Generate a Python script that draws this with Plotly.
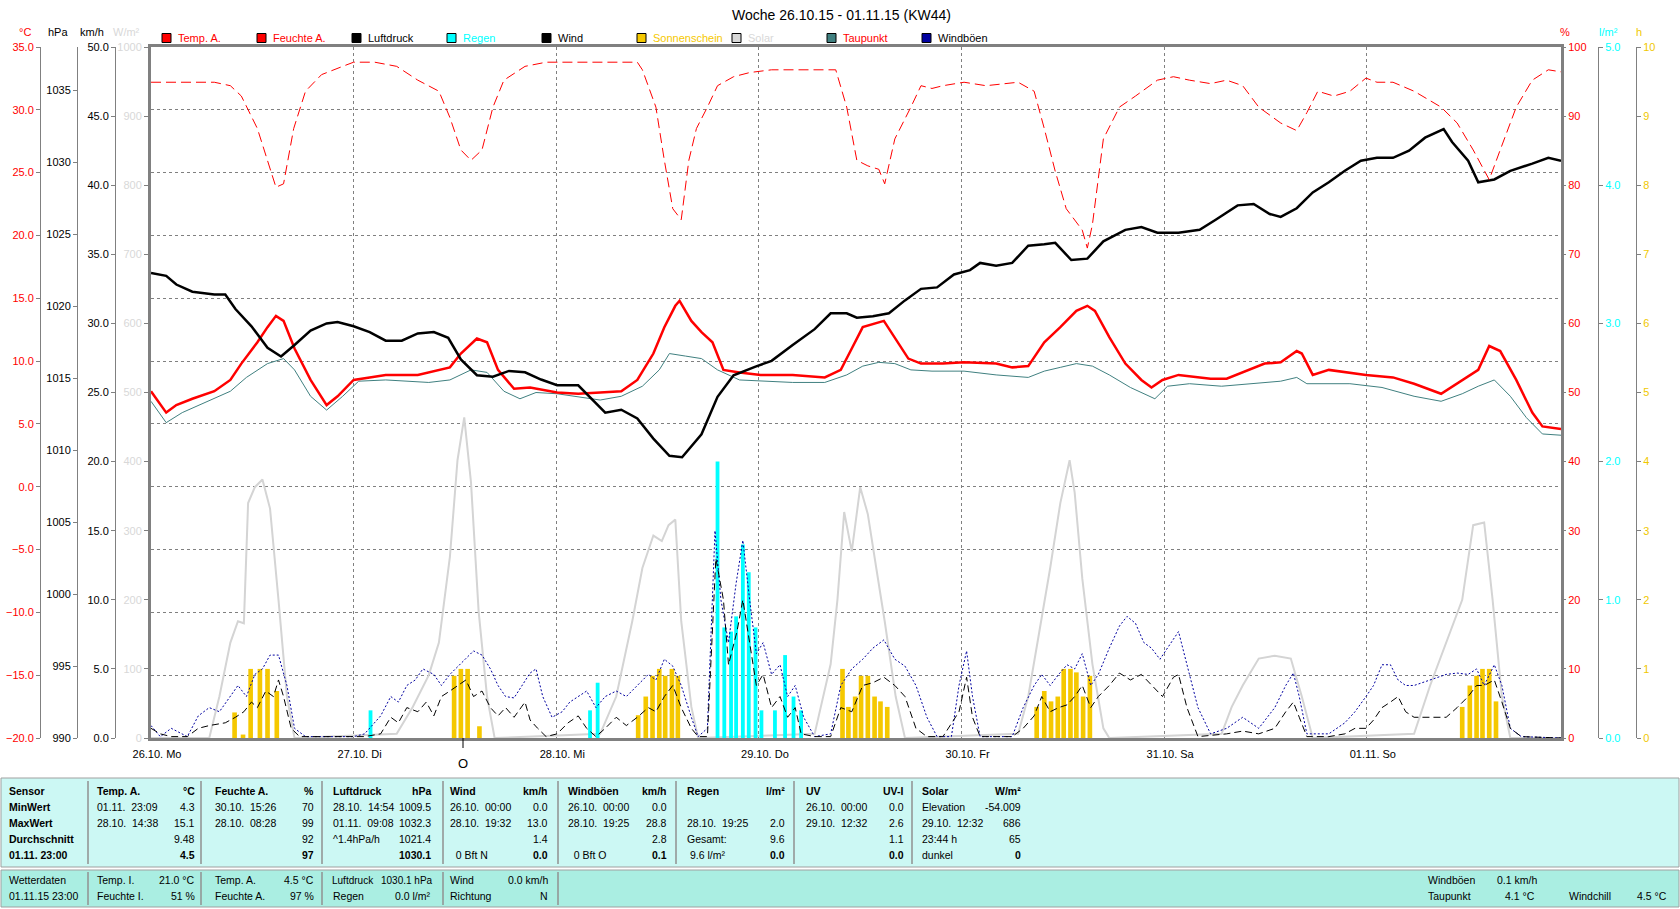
import plotly.graph_objects as go

# ---------------- data (hours since 26.10.15 00:00) ----------------
day_ticks = [0, 24, 48, 72, 96, 120, 144]
day_labels = ["26.10. Mo", "27.10. Di", "28.10. Mi", "29.10. Do", "30.10. Fr", "31.10. Sa", "01.11. So"]

hum_h = [0, 7.5, 9.4, 10.7, 12.6, 13.8, 14.8, 15.7, 16.9, 18.3, 20.2, 22.7, 24.0, 26.5, 29.1, 31.6, 34.1, 35.4,
         36.7, 37.9, 39.2, 40.5, 41.8, 44.3, 46.8, 57.6, 58.2, 59.8, 60.8, 61.8, 62.8, 63.7, 64.6, 65.9, 67.1,
         69.0, 70.9, 73.5, 81.1, 82.4, 83.6, 84.9, 86.2, 86.9, 88.1, 90.0, 91.2, 92.5, 93.8, 96.3, 98.9, 102.7,
         104.6, 105.8, 107.1, 108.4, 110.3, 110.9, 111.5, 112.8, 114.7, 116.6, 119.2, 121.1, 123.0, 125.5, 127.4,
         129.3, 131.2, 133.8, 135.7, 136.9, 138.2, 140.1, 142.0, 143.9, 145.2, 147.1, 149.6, 152.8, 154.7, 156.6,
         158.5, 159.8, 161.7, 163.6, 165.5, 167.0]
hum_v = [94.9, 94.9, 94.4, 92.9, 88.2, 83.6, 79.7, 80.2, 88.2, 93.6, 96.0, 97.2, 97.8, 97.8, 97.2, 95.2, 93.6, 89.8,
         85.1, 83.6, 85.1, 91.3, 95.2, 97.2, 97.8, 97.8, 96.7, 91.3, 83.6, 76.6, 75.0, 83.6, 88.2, 91.3, 94.4,
         95.7, 96.3, 96.7, 96.7, 91.3, 83.6, 82.8, 82.3, 80.2, 86.7, 91.3, 94.4, 94.0, 94.4, 94.9, 94.4, 94.9,
         93.6, 88.2, 82.0, 76.6, 73.5, 70.9, 74.3, 86.7, 91.3, 92.9, 95.2, 95.7, 95.2, 94.7, 95.2,
         94.4, 91.3, 89.0, 87.9, 90.5, 93.6, 92.9, 93.6, 95.5, 94.9, 94.9, 93.6, 91.3, 89.0, 85.1,
         80.8, 85.1, 91.3, 95.2, 96.7, 96.4]

temp_h = [0, 1.8, 3.0, 4.9, 7.5, 9.4, 10.7, 12.6, 13.8, 14.8, 15.7, 17.0, 18.9, 20.8, 22.1, 24.0, 25.9, 27.8, 31.6,
          34.1, 35.4, 36.7, 38.6, 39.8, 41.1, 43.0, 44.9, 48.1, 50.6, 53.2, 55.7, 57.6, 59.5, 60.8, 62.1, 62.6,
          64.0, 65.2, 66.5, 67.8, 69.7, 72.2, 76.0, 79.8, 81.7, 83.0, 84.3, 86.8, 88.1, 89.7, 91.2, 93.8, 96.3,
          100.1, 102.0, 103.9, 105.8, 107.7, 109.6, 110.9, 111.8, 113.5, 115.4, 117.3, 118.5, 119.8, 121.7, 125.5,
          127.4, 129.3, 131.9, 133.8, 135.7, 136.3, 137.6, 139.5, 143.9, 147.1, 149.6, 152.8, 155.3, 157.2, 158.5,
          159.8, 161.7, 163.6, 164.8, 167.0]
temp_v = [7.6, 5.9, 6.5, 7.0, 7.6, 8.5, 9.8, 11.5, 12.7, 13.6, 13.2, 11.0, 8.5, 6.5, 7.2, 8.5, 8.7, 8.9, 8.9,
          9.3, 9.5, 10.6, 11.8, 11.5, 9.3, 7.8, 7.9, 7.5, 7.4, 7.5, 7.6, 8.5, 10.6, 12.7, 14.4, 14.8,
          13.2, 12.3, 11.5, 9.3, 9.1, 8.9, 8.9, 8.7, 9.3, 11.0, 12.7, 13.2, 11.9, 10.2, 9.8, 9.8, 9.9,
          9.8, 9.5, 9.6, 11.5, 12.7, 14.0, 14.4, 14.0, 11.9, 9.8, 8.5, 7.9, 8.5, 8.9, 8.6,
          8.6, 9.1, 9.8, 9.9, 10.8, 10.6, 8.9, 9.3, 8.9, 8.7, 8.2, 7.4, 8.5, 9.3, 11.2,
          10.8, 8.5, 5.9, 4.8, 4.6]

dew_h = [0, 1.8, 3.7, 7.5, 9.4, 11.3, 13.8, 15.7, 17.0, 18.9, 20.8, 22.7, 24.6, 27.8, 32.9, 35.4, 37.9, 39.8, 41.8,
         43.7, 45.6, 48.1, 53.2, 55.7, 58.2, 60.2, 61.4, 63.3, 65.2, 67.1, 69.7, 76.0, 79.8, 82.4, 84.3, 86.2, 88.1,
         90.0, 92.5, 96.3, 100.1, 103.9, 105.8, 107.7, 109.6, 111.5, 113.5, 116.0, 118.9, 120.4, 123.0, 126.8,
         130.6, 133.8, 135.7, 136.9, 142.0, 145.8, 149.6, 152.8, 155.3, 157.2, 159.1, 161.0, 162.9, 164.8, 167.0]
dew_v = [6.8, 5.1, 5.9, 7.0, 7.6, 8.7, 9.8, 10.2, 9.3, 7.2, 6.1, 7.2, 8.4, 8.5, 8.3, 8.5, 9.3, 9.1, 7.6,
         7.0, 7.5, 7.4, 6.9, 7.2, 8.0, 9.3, 10.6, 10.4, 10.2, 9.3, 8.5, 8.3, 8.3, 8.9, 9.6, 9.9, 9.8,
         9.3, 9.2, 9.2, 8.9, 8.7, 9.2, 9.5, 9.8, 9.6, 8.9, 7.9, 7.0, 8.0, 8.2, 8.0,
         8.2, 8.4, 8.7, 8.2, 8.2, 7.9, 7.2, 6.8, 7.4, 8.0, 8.5, 7.2, 5.5, 4.2, 4.1]

press_h = [0, 1.8, 3.0, 4.9, 7.5, 8.8, 10.0, 11.9, 13.8, 15.4, 17.0, 18.9, 20.8, 22.1, 24.0, 25.9, 27.8, 29.7, 31.6,
           33.5, 35.2, 36.7, 38.6, 40.5, 42.4, 44.3, 46.2, 48.1, 50.6, 51.9, 53.8, 55.7, 57.6, 59.5, 61.4, 62.9,
           65.2, 67.1, 69.0, 71.6, 73.5, 76.0, 78.6, 80.5, 82.4, 83.6, 85.5, 87.4, 89.3, 91.2, 93.1, 95.1, 97.0,
           98.2, 100.1, 102.0, 103.9, 105.8, 107.1, 109.0, 110.9, 112.8, 115.4, 117.3, 119.2, 121.7, 124.2, 126.1,
           128.7, 130.6, 132.5, 133.8, 135.7, 137.6, 139.5, 141.4, 143.3, 145.2, 147.1, 149.0, 150.9, 153.1, 154.1,
           156.0, 157.2, 159.1, 161.0, 163.6, 165.5, 167.0]
press_v = [1022.3, 1022.1, 1021.5, 1021.0, 1020.8, 1020.8, 1019.8, 1018.6, 1017.1, 1016.5, 1017.3, 1018.3, 1018.8,
           1018.9, 1018.6, 1018.2, 1017.6, 1017.6, 1018.1, 1018.2, 1017.8, 1016.3, 1015.2, 1015.1, 1015.5, 1015.4,
           1014.9, 1014.5, 1014.5, 1013.7, 1012.6, 1012.8, 1012.2, 1010.8, 1009.6, 1009.5, 1011.1, 1013.7, 1015.2,
           1015.8, 1016.2, 1017.3, 1018.4, 1019.5, 1019.5, 1019.2, 1019.3, 1019.5, 1020.4, 1021.2, 1021.3, 1022.2,
           1022.5, 1023.0, 1022.8, 1023.0, 1024.2, 1024.3, 1024.4, 1023.2, 1023.3, 1024.5, 1025.3, 1025.5, 1025.1,
           1025.1, 1025.3, 1026.0, 1027.0, 1027.1, 1026.4, 1026.2, 1026.8, 1027.9, 1028.6, 1029.4, 1030.1, 1030.3,
           1030.3, 1030.8, 1031.7, 1032.3, 1031.4, 1030.1, 1028.6, 1028.8, 1029.4, 1029.9, 1030.3, 1030.1]

solar_h = [0, 6.9, 8.1, 9.4, 10.3, 11.0, 11.5, 12.3, 13.2, 14.1, 15.1, 16.1, 17.0, 29.1, 31.0, 32.9, 34.1, 35.4,
           36.3, 37.1, 37.9, 38.8, 39.8, 40.7, 53.2, 55.1, 57.0, 58.2, 59.5, 60.5, 61.3, 62.1, 62.8, 64.0, 64.8,
           78.6, 80.5, 81.3, 82.1, 83.0, 84.0, 84.9, 85.9, 86.9, 88.2, 89.3, 102.7, 103.9, 105.2, 106.5, 107.7,
           108.8, 109.4, 110.3, 111.5, 112.8, 113.5, 126.8, 128.0, 129.3, 131.2, 133.1, 135.0, 136.3, 137.6,
           149.6, 151.5, 153.4, 155.3, 156.6, 157.9, 158.9, 160.0, 161.0, 167.0]
solar_v = [0, 0, 60, 138, 169, 166, 340, 363, 374, 332, 200, 60, 0, 6, 45, 91, 138, 262,
           402, 464, 370, 184, 60, 0, 6, 60, 169, 246, 293, 285, 308, 316, 169, 45, 0,
           6, 107, 200, 327, 270, 363, 324, 246, 169, 60, 0, 6, 60, 153, 246, 340,
           402, 355, 231, 107, 14, 0, 6, 45, 76, 115, 119, 115, 60, 0,
           6, 76, 138, 200, 308, 312, 200, 60, 0, 0]

sun_h = [9.9, 10.9, 11.8, 12.9, 13.8, 14.9, 35.9, 36.7, 37.5, 38.9, 57.7, 58.6, 59.4, 60.2, 60.9, 61.7, 62.4,
         81.9, 82.6, 83.4, 84.1, 84.9, 85.7, 86.4, 87.2, 104.9, 105.8, 106.6, 107.4, 108.1, 108.9, 109.6, 110.4,
         111.2, 155.3, 156.2, 157.0, 157.7, 158.5, 159.3]
sun_v = [0.37, 0.05, 1.0, 1.0, 1.0, 0.68, 0.9, 1.0, 1.0, 0.17, 0.33, 0.6, 0.9, 1.0, 0.9, 1.0, 0.9,
         1.0, 0.45, 0.6, 0.9, 0.9, 0.6, 0.53, 0.45, 0.45, 0.68, 0.53, 0.6, 1.0, 1.0, 0.95, 0.6,
         0.9, 0.45, 0.76, 0.9, 1.0, 1.0, 0.53]

rain_h = [26.0, 52.0, 52.9, 67.1, 67.9, 68.7, 69.3, 70.1, 70.8, 71.6, 72.3, 73.9, 75.1, 76.1, 77.0]
rain_v = [0.2, 0.2, 0.4, 2.0, 0.8, 0.77, 0.88, 1.4, 1.2, 0.8, 0.2, 0.2, 0.6, 0.3, 0.2]

wind_h = [0, 1.1, 2.4, 4.3, 5.6, 6.9, 8.8, 10.0, 11.0, 11.9, 12.6, 13.6, 14.5, 15.1, 15.7, 16.6, 17.6, 25.3, 27.2,
          28.4, 29.3, 30.3, 31.6, 32.6, 33.5, 34.4, 35.4, 36.4, 37.3, 38.2, 39.2, 40.2, 41.1, 42.0, 43.0, 44.3,
          44.9, 45.8, 46.8, 48.1, 49.4, 50.6, 51.6, 52.7, 53.8, 55.1, 56.3, 57.6, 58.9, 59.8, 60.8, 61.8, 62.8,
          64.0, 64.8, 65.9, 66.9, 67.8, 68.4, 69.4, 70.1, 70.9, 71.7, 72.5, 73.5, 74.5, 75.4, 76.3, 77.0, 78.6,
          80.5, 81.7, 83.0, 84.3, 85.5, 86.8, 88.1, 89.3, 90.6, 91.9, 93.8, 95.7, 96.6, 97.3, 98.2, 102.0, 103.3,
          104.6, 105.5, 106.5, 107.5, 108.5, 109.4, 110.3, 111.3, 112.2, 113.5, 114.7, 116.0, 117.3, 118.5, 119.8,
          121.1, 121.7, 122.7, 124.0, 127.4, 129.3, 131.2, 133.1, 134.4, 135.3, 136.0, 136.9, 139.5, 141.4, 142.6,
          143.9, 144.8, 145.8, 146.8, 147.7, 148.6, 149.6, 153.4, 154.7, 156.0, 157.0, 157.9, 159.1, 160.0, 161.0,
          162.3, 167.0]
wind_v = [0.7, 0.3, 0.1, 0.1, 0.7, 0.9, 1.1, 1.5, 1.9, 2.6, 2.2, 3.4, 3.0, 4.2, 3.0, 0.7, 0.1, 0.1, 0.3,
          1.5, 1.1, 2.2, 1.9, 2.6, 1.6, 3.0, 3.4, 3.8, 4.2, 3.0, 3.4, 2.2, 1.6, 2.2, 1.5, 2.6,
          1.3, 0.7, 0.1, 0.3, 1.1, 1.6, 0.7, 0.1, 0.7, 1.5, 0.9, 1.5, 2.2, 1.9, 3.0, 3.8, 2.2,
          0.7, 0.1, 0.1, 13.0, 10.0, 5.3, 7.7, 10.0, 6.9, 3.8, 4.6, 2.2, 3.0, 1.5, 2.2, 0.3, 0.1,
          0.1, 2.2, 1.9, 3.8, 4.0, 4.4, 3.8, 3.0, 0.7, 0.1, 0.1, 1.9, 4.4, 1.5, 0.1, 0.1, 0.7,
          1.6, 3.0, 1.9, 2.2, 2.4, 3.0, 3.8, 2.2, 3.0, 3.8, 4.7, 4.2, 4.6, 3.8, 3.0,
          4.4, 4.6, 2.2, 0.1, 0.3, 0.5, 0.3, 0.7, 1.9, 2.6, 1.5, 0.1, 0.1, 0.3, 0.7,
          0.7, 1.3, 2.2, 2.6, 3.0, 1.9, 1.5, 1.5, 2.2, 3.0, 3.8, 3.8, 4.2, 2.6, 0.7,
          0.1, 0.0]

gust_h = [0, 1.1, 2.4, 4.3, 5.6, 6.9, 8.1, 9.4, 10.3, 11.3, 12.3, 13.2, 14.1, 15.1, 16.1, 17.0, 18.3, 24.0, 25.3,
          27.2, 28.4, 29.3, 30.3, 31.3, 32.2, 33.5, 34.4, 35.4, 36.4, 37.3, 38.2, 39.2, 40.2, 41.1, 42.0, 43.0,
          44.0, 44.9, 45.6, 46.4, 47.5, 48.7, 49.6, 50.6, 51.6, 52.7, 53.8, 55.1, 56.3, 57.6, 58.9, 59.8, 60.8,
          61.8, 62.8, 64.0, 64.8, 65.9, 66.8, 67.5, 68.4, 69.3, 70.1, 70.9, 71.7, 72.5, 73.5, 74.5, 75.4, 76.3,
          77.3, 78.6, 80.5, 81.7, 83.0, 84.3, 85.5, 86.8, 88.1, 89.3, 90.6, 91.9, 93.1, 94.8, 95.7, 96.6, 97.3,
          98.2, 102.0, 103.3, 104.6, 105.5, 106.5, 107.5, 108.5, 109.4, 110.3, 111.3, 112.2, 113.5, 114.7, 115.6,
          116.6, 117.6, 118.5, 119.5, 120.8, 121.7, 122.7, 124.0, 125.5, 127.4, 129.3, 131.2, 133.1, 134.4, 135.3,
          136.0, 136.9, 139.5, 141.4, 142.6, 143.9, 144.8, 145.8, 146.8, 147.7, 148.6, 149.6, 151.5, 153.4, 154.7,
          156.0, 157.0, 157.9, 159.1, 160.0, 161.0, 162.3, 167.0]
gust_v = [0.9, 0.1, 0.7, 0.1, 1.6, 2.2, 1.9, 3.0, 3.8, 3.0, 4.6, 5.0, 6.0, 6.0, 3.8, 0.7, 0.1, 0.1, 0.3,
          1.6, 3.0, 2.6, 3.8, 4.2, 5.0, 4.6, 3.8, 4.6, 5.2, 5.7, 6.3, 6.0, 5.0, 3.8, 3.0, 2.9,
          3.8, 4.7, 5.0, 3.0, 1.5, 1.9, 2.6, 3.0, 3.4, 2.2, 3.0, 3.4, 3.0, 3.8, 4.6, 4.2, 5.7,
          5.2, 3.8, 1.5, 0.1, 0.7, 15.0, 10.0, 6.9, 11.2, 14.3, 10.0, 6.1, 6.9, 4.6, 5.3, 3.0, 3.8,
          1.5, 0.1, 0.3, 3.8, 5.0, 5.7, 6.5, 7.1, 5.7, 5.2, 3.8, 1.5, 0.1, 0.1, 3.8, 6.3, 3.0,
          0.1, 0.1, 2.2, 3.8, 4.6, 3.8, 4.6, 5.3, 5.0, 6.1, 3.8, 4.6, 6.5, 8.1, 8.8,
          8.3, 6.9, 6.5, 5.7, 6.9, 7.7, 5.3, 2.2, 0.3, 0.7, 1.5, 0.7, 2.2, 3.8, 4.7,
          3.0, 0.3, 0.3, 1.1, 1.9, 3.0, 3.8, 5.3, 5.3, 4.2, 3.8, 3.8, 4.2, 4.6, 4.7,
          4.6, 5.0, 3.8, 5.3, 3.8, 0.7, 0.1, 0.0]

# ---------------- table texts ----------------
row_names = ["Sensor", "MinWert", "MaxWert", "Durchschnitt", "01.11. 23:00"]
tab_cols = [
    # (left x, right x, header left, header right, [ (left text, right text) x4 ])
    (95, 197, "Temp. A.", "°C", [("01.11.  23:09", "4.3"), ("28.10.  14:38", "15.1"), ("", "9.48"), ("", "4.5")]),
    (213, 316, "Feuchte A.", "%", [("30.10.  15:26", "70"), ("28.10.  08:28", "99"), ("", "92"), ("", "97")]),
    (331, 433, "Luftdruck", "hPa", [("28.10.  14:54", "1009.5"), ("01.11.  09:08", "1032.3"), ("^1.4hPa/h", "1021.4"), ("", "1030.1")]),
    (448, 550, "Wind", "km/h", [("26.10.  00:00", "0.0"), ("28.10.  19:32", "13.0"), ("", "1.4"), ("  0 Bft N", "0.0")]),
    (566, 669, "Windböen", "km/h", [("26.10.  00:00", "0.0"), ("28.10.  19:25", "28.8"), ("", "2.8"), ("  0 Bft O", "0.1")]),
    (685, 787, "Regen", "l/m²", [("", ""), ("28.10.  19:25", "2.0"), ("Gesamt:", "9.6"), (" 9.6 l/m²", "0.0")]),
    (804, 906, "UV", "UV-I", [("26.10.  00:00", "0.0"), ("29.10.  12:32", "2.6"), ("", "1.1"), ("", "0.0")]),
    (920, 1023, "Solar", "W/m²", [("Elevation", "-54.009"), ("29.10.  12:32", "686"), ("23:44 h", "65"), ("dunkel", "0")]),
]
low_cols = [
    (95, 197, [("Temp. I.", "21.0 °C"), ("Feuchte I.", "51 %")]),
    (213, 316, [("Temp. A.", "4.5 °C"), ("Feuchte A.", "97 %")]),
    (331, 433, [("Luftdruck", "1030.1 hPa"), ("Regen", "0.0 l/m²")]),
    (448, 550, [("Wind", "0.0 km/h"), ("Richtung", "N")]),
]
legend_items = [("Temp. A.", "#FF0000", "#FF0000"), ("Feuchte A.", "#FF0000", "#FF0000"),
                ("Luftdruck", "#000000", "#000000"), ("Regen", "#00FFFF", "#00FFFF"),
                ("Wind", "#000000", "#000000"), ("Sonnenschein", "#F5C800", "#F5C800"),
                ("Solar", "#D8D8D8", "#D8D8D8"), ("Taupunkt", "#408080", "#FF0000"),
                ("Windböen", "#0000A0", "#000000")]

# ---------------- layout helpers ----------------
W, H = 1680, 909
FONT = "Liberation Sans, Arial, sans-serif"
GRAY = "#808080"
RED = "#FF0000"
GOLD = "#F0C800"
CYAN = "#00FFFF"
LGRAY = "#D4D4D4"
TS = 10.5  # table font size


def fx(x):
    return x / W


def fy(y):
    return 1 - y / H


PX0, PX1, PY0, PY1 = 151, 1561, 47, 738
xdom = [fx(PX0), fx(PX1)]
ydom = [fy(PY1), fy(PY0)]

fig = go.Figure()

fig.add_trace(go.Scatter(x=solar_h, y=solar_v, mode="lines", line=dict(color=LGRAY, width=2), yaxis="y", hoverinfo="skip"))
fig.add_trace(go.Bar(x=sun_h, y=sun_v, width=0.55, marker=dict(color="#F5C800", line=dict(width=0)), yaxis="y2"))
fig.add_trace(go.Bar(x=rain_h, y=rain_v, width=0.45, marker=dict(color=CYAN, line=dict(width=0)), yaxis="y3"))
fig.add_trace(go.Scatter(x=gust_h, y=gust_v, mode="lines", line=dict(color="#0000A0", width=1, dash="2px,2px"), yaxis="y4"))
fig.add_trace(go.Scatter(x=wind_h, y=wind_v, mode="lines", line=dict(color="#000000", width=1, dash="7px,4px"), yaxis="y4"))
fig.add_trace(go.Scatter(x=dew_h, y=dew_v, mode="lines", line=dict(color="#408080", width=1), yaxis="y5"))
fig.add_trace(go.Scatter(x=temp_h, y=temp_v, mode="lines", line=dict(color=RED, width=2.5), yaxis="y5"))
fig.add_trace(go.Scatter(x=press_h, y=press_v, mode="lines", line=dict(color="#000000", width=2.5), yaxis="y6"))
fig.add_trace(go.Scatter(x=hum_h, y=hum_v, mode="lines", line=dict(color=RED, width=1, dash="10px,5px"), yaxis="y7"))

tickfont = lambda c: dict(family=FONT, size=11, color=c)
common = dict(domain=ydom, showgrid=False, zeroline=False, ticks="outside", ticklen=4, tickcolor=GRAY,
              showline=True, linecolor=GRAY, linewidth=1, automargin=False)

fig.update_layout(
    width=W, height=H, margin=dict(l=0, r=0, t=0, b=0),
    paper_bgcolor="white", plot_bgcolor="white", showlegend=False, barmode="overlay",
    font=dict(family=FONT, size=11, color="black"),
    xaxis=dict(domain=xdom, range=[0, 167], tickvals=day_ticks, ticktext=day_labels, ticks="",
               showgrid=True, gridcolor=GRAY, griddash="3px,3px", gridwidth=1, zeroline=False,
               showline=True, mirror=True, linecolor=GRAY, linewidth=3, tickfont=tickfont("black"),
               ticklabelshift=6, ticklabelstandoff=4, automargin=False, anchor="y"),
    yaxis=dict(common, range=[0, 1000], dtick=100, tickformat="d", tickfont=tickfont("#D8D8D8"),
               anchor="x", side="left", linewidth=3, mirror=True),
    yaxis2=dict(common, range=[0, 10], dtick=1, tickformat="d", tickfont=tickfont(GOLD),
                anchor="free", position=fx(1636), side="right", overlaying="y"),
    yaxis3=dict(common, range=[0, 5], dtick=1, tickformat=".1f", tickfont=tickfont(CYAN),
                anchor="free", position=fx(1598), side="right", overlaying="y"),
    yaxis4=dict(common, range=[0, 50], dtick=5, tickformat=".1f", tickfont=tickfont("black"),
                anchor="free", position=fx(115), side="left", overlaying="y"),
    yaxis5=dict(common, range=[-20, 35], dtick=5, tickformat=".1f", tickfont=tickfont(RED),
                anchor="free", position=fx(40), side="left", overlaying="y",
                showgrid=True, gridcolor=GRAY, griddash="3px,3px", gridwidth=1),
    yaxis6=dict(common, range=[990, 1038], tickvals=[990, 995, 1000, 1005, 1010, 1015, 1020, 1025, 1030, 1035],
                tickfont=tickfont("black"), anchor="free", position=fx(77), side="left", overlaying="y"),
    yaxis7=dict(common, range=[0, 100], dtick=10, tickformat="d", tickfont=tickfont(RED),
                anchor="x", side="right", overlaying="y"),
)

ann = []
shapes = []


def text(x, y, s, color="black", size=11, anchor="left", bold=False):
    if bold:
        s = "<b>" + s + "</b>"
    ann.append(dict(x=fx(x), y=fy(y), xref="paper", yref="paper", text=s, showarrow=False,
                    xanchor=anchor, yanchor="middle", font=dict(family=FONT, size=size, color=color)))


# title
text(841, 15, "Woche 26.10.15 - 01.11.15 (KW44)", size=14, anchor="center")
# unit labels
text(25, 32, "°C", RED, anchor="center")
text(58, 32, "hPa", anchor="center")
text(92, 32, "km/h", anchor="center")
text(127, 32, "W/m²", "#D8D8D8", anchor="center")
text(1565, 32, "%", RED, anchor="center")
text(1608, 32, "l/m²", CYAN, anchor="center")
text(1639, 32, "h", GOLD, anchor="center")

# legend
for i, (lab, sq, tc) in enumerate(legend_items):
    x0 = 162 + 95 * i
    shapes.append(dict(type="rect", xref="paper", yref="paper", x0=fx(x0), x1=fx(x0 + 9), y0=fy(42.5), y1=fy(33.5),
                       fillcolor=sq, line=dict(color="black", width=1)))
    text(x0 + 14, 38, lab, tc)

# wind direction marker below axis
shapes.append(dict(type="line", xref="paper", yref="paper", x0=fx(463), x1=fx(463), y0=fy(738), y1=fy(748),
                   line=dict(color="black", width=1)))
text(463, 763, "O", size=13, anchor="center")

# table panels
shapes.append(dict(type="rect", xref="paper", yref="paper", x0=fx(1), x1=fx(1679), y0=fy(867), y1=fy(778),
                   fillcolor="#CCF8F4", line=dict(color="#A0A0A0", width=1), layer="below"))
shapes.append(dict(type="rect", xref="paper", yref="paper", x0=fx(1), x1=fx(1679), y0=fy(907), y1=fy(870),
                   fillcolor="#AAEEE2", line=dict(color="#A0A0A0", width=1), layer="below"))
for sx in [88, 201, 322, 443, 558, 676, 794, 912]:
    shapes.append(dict(type="line", xref="paper", yref="paper", x0=fx(sx), x1=fx(sx), y0=fy(864), y1=fy(781),
                       line=dict(color="#909090", width=1.5)))
for sx in [88, 201, 322, 443, 558]:
    shapes.append(dict(type="line", xref="paper", yref="paper", x0=fx(sx), x1=fx(sx), y0=fy(905), y1=fy(872),
                       line=dict(color="#909090", width=1.5)))

rows_y = [791, 807, 823, 839, 855]
for i, nm in enumerate(row_names):
    text(7, rows_y[i], nm, bold=True, size=TS)
for (xl, xr, hl, hr, rows) in tab_cols:
    text(xl, rows_y[0], hl, bold=True, size=TS)
    text(xr, rows_y[0], hr, anchor="right", bold=True, size=TS)
    for j, (l, r) in enumerate(rows):
        last = j == 3
        if l:
            text(xl, rows_y[j + 1], l, size=TS)
        if r:
            text(xr, rows_y[j + 1], r, anchor="right", bold=last, size=TS)

low_y = [880, 896]
text(7, low_y[0], "Wetterdaten", size=TS)
text(7, low_y[1], "01.11.15 23:00", size=TS)
for (xl, xr, rows) in low_cols:
    for j, (l, r) in enumerate(rows):
        sz = 10 if l == "Luftdruck" else TS
        text(xl - (1 if l == "Luftdruck" else 0), low_y[j], l, size=sz)
        text(xr + (2 if l == "Luftdruck" else 0), low_y[j], r, anchor="right", size=sz)
text(1426, low_y[0], "Windböen", size=TS)
text(1495, low_y[0], "0.1 km/h", size=TS)
text(1426, low_y[1], "Taupunkt", size=TS)
text(1503, low_y[1], "4.1 °C", size=TS)
text(1567, low_y[1], "Windchill", size=TS)
text(1669, low_y[1], "4.5 °C", anchor="right", size=TS)

fig.update_layout(annotations=ann, shapes=shapes)
fig.write_html("out.html", post_script="document.body.style.margin='0';")
